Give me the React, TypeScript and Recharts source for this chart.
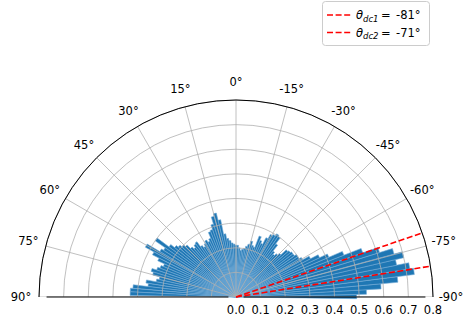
import React from 'react';
import { RadarChart, RadialBarChart, RadialBar, PolarAngleAxis, PolarRadiusAxis, PolarGrid } from 'recharts';

// angular bin centres (degrees, positive = left of vertical)
const binAngles = [
  -89, -87, -85, -83, -81, -79, -77, -75, -73, -71,
  -69, -67, -65, -63, -61, -59, -57, -55, -53, -51,
  -49, -47, -45, -43, -41, -39, -37, -35, -33, -31,
  -29, -27, -25, -23, -21, -19, -17, -15, -13, -11,
  -9, -7, -5, -3, -1, 1, 3, 5, 7, 9,
  11, 13, 15, 17, 19, 21, 23, 25, 27, 29,
  31, 33, 35, 37, 39, 41, 43, 45, 47, 49,
  51, 53, 55, 57, 59, 61, 63, 65, 67, 69,
  71, 73, 75, 77, 79, 81, 83, 85, 87, 89,
];
// radial magnitude per bin
const binRadii = [
  0.49, 0.53, 0.59, 0.66, 0.73, 0.715, 0.665, 0.70, 0.665, 0.61,
  0.545, 0.47, 0.41, 0.375, 0.34, 0.31, 0.30, 0.30, 0.29, 0.29,
  0.285, 0.28, 0.25, 0.24, 0.23, 0.24, 0.27, 0.30, 0.305, 0.295,
  0.29, 0.27, 0.24, 0.25, 0.265, 0.215, 0.22, 0.235, 0.22, 0.21,
  0.20, 0.195, 0.19, 0.20, 0.21, 0.21, 0.215, 0.22, 0.23, 0.24,
  0.26, 0.32, 0.35, 0.34, 0.31, 0.29, 0.285, 0.26, 0.25, 0.26,
  0.25, 0.24, 0.25, 0.275, 0.27, 0.26, 0.27, 0.29, 0.30, 0.31,
  0.32, 0.34, 0.40, 0.35, 0.36, 0.42, 0.38, 0.35, 0.32, 0.33,
  0.34, 0.36, 0.35, 0.32, 0.33, 0.37, 0.36, 0.42, 0.43, 0.43,
];
const angleTicks = [-90, -75, -60, -45, -30, -15, 0, 15, 30, 45, 60, 75, 90];
const radiusTicks = [0, 0.1, 0.2, 0.3, 0.4, 0.5, 0.6, 0.7, 0.8];
const refNames = ['dc1', 'dc2'];
const refAngles = [-81, -71];

const W = 470;
const H = 322;
const CX = 236;
const CY = 297;
const R = 197;
const M = { top: 0, right: 0, bottom: 0, left: 0 };
const FONT = '"DejaVu Sans", sans-serif';
const FS = 11.5;

const barData = binAngles.map((t, i) => ({ theta: t, r: binRadii[i] }));
const tickData = angleTicks.map((d) => ({ deg: d }));
const refData = refAngles.map((d) => ({ deg: d }));
const rMax = radiusTicks[radiusTicks.length - 1];
const aDomain: [number, number] = [angleTicks[0], angleTicks[angleTicks.length - 1]];
// the band axis puts each category's bar centred on the band start; shift by half a band
const halfBand = (aDomain[1] - aDomain[0]) / binAngles.length / 2;

const AngleTick = (props: any) => {
  const { x, y, payload } = props;
  return (
    <text x={x} y={y} textAnchor="middle" dominantBaseline="central" fontSize={FS} fontFamily={FONT} fill="#000">
      {`${payload.value}°`}
    </text>
  );
};

const RadiusTick = (props: any) => {
  const { x, y, payload } = props;
  return (
    <text x={x} y={y + 13} textAnchor="middle" dominantBaseline="central" fontSize={FS} fontFamily={FONT} fill="#000">
      {Number(payload.value).toFixed(1)}
    </text>
  );
};

const layer: React.CSSProperties = { position: 'absolute', left: 0, top: 0 };
const common = {
  width: W,
  height: H,
  cx: CX,
  cy: CY,
  innerRadius: 0,
  outerRadius: R,
  startAngle: 0,
  endAngle: 180,
  margin: M,
};

// chart whose radius axis is numeric (unit scale) -> outer radius chosen so rMax lands on R
const CentricChart = ({ children }: { children: React.ReactNode }) => (
  <RadarChart
    {...common}
    outerRadius={R / rMax}
    startAngle={halfBand}
    endAngle={180 + halfBand}
    data={barData}
  >
    <PolarAngleAxis type="category" dataKey="theta" tick={false} tickLine={false} axisLine={false} />
    {children}
  </RadarChart>
);

export default function App() {
  return (
    <div style={{ position: 'absolute', left: 0, top: 0, width: W, height: H, background: '#fff', overflow: 'hidden' }}>
      {/* bars */}
      <div style={layer}>
        <CentricChart>
          <PolarRadiusAxis type="number" domain={[0, 1]} ticks={radiusTicks as any} allowDataOverflow tick={false} tickLine={false} axisLine={false} />
          <RadialBar dataKey="r" fill="#1f77b4" stroke="#74abd6" strokeWidth={0.6} isAnimationActive={false} />
        </CentricChart>
      </div>
      {/* concentric grid, clipped at the baseline */}
      <div style={{ ...layer, width: W, height: CY, overflow: 'hidden' }}>
        <CentricChart>
          <PolarGrid gridType="circle" radialLines={false} stroke="#b0b0b0" strokeWidth={0.8} />
          <PolarRadiusAxis type="number" domain={[0, 1]} ticks={radiusTicks as any} allowDataOverflow tick={false} tickLine={false} axisLine={false} />
        </CentricChart>
      </div>
      {/* radial grid lines and outer arc, clipped at the baseline */}
      <div style={{ ...layer, width: W, height: CY, overflow: 'hidden' }}>
        <RadialBarChart {...common} data={tickData}>
          <PolarGrid gridType="circle" polarRadius={[]} stroke="#b0b0b0" strokeWidth={0.8} />
          <PolarAngleAxis
            type="number"
            dataKey="deg"
            domain={aDomain}
            tickCount={angleTicks.length}
            tick={false}
            tickLine={false}
            axisLineType="circle"
            axisLine={{ stroke: '#000', strokeWidth: 1 }}
          />
        </RadialBarChart>
      </div>
      {/* reference lines */}
      <div style={layer}>
        <RadialBarChart {...common} data={refData}>
          <PolarGrid gridType="circle" polarRadius={[]} stroke="#ff0000" strokeWidth={1.6} strokeDasharray="6 2.6" />
          <PolarAngleAxis type="number" dataKey="deg" domain={aDomain} ticks={refAngles as any} tick={false} tickLine={false} axisLine={false} />
        </RadialBarChart>
      </div>
      {/* angle labels and baseline spines */}
      <div style={layer}>
        <RadialBarChart {...common} data={tickData}>
          <PolarAngleAxis
            type="number"
            dataKey="deg"
            domain={aDomain}
            tickCount={angleTicks.length}
            tickSize={18}
            tickLine={false}
            axisLine={false}
            tick={<AngleTick />}
          />
          <PolarRadiusAxis angle={0} tick={false} tickLine={false} axisLine={{ stroke: '#000', strokeWidth: 1 }} />
          <PolarRadiusAxis radiusAxisId="left" angle={180} tick={false} tickLine={false} axisLine={{ stroke: '#000', strokeWidth: 1 }} />
        </RadialBarChart>
      </div>
      {/* radius labels */}
      <div style={layer}>
        <CentricChart>
          <PolarRadiusAxis
            type="number"
            angle={0}
            domain={[0, 1]}
            ticks={radiusTicks as any}
            allowDataOverflow
            tickLine={false}
            axisLine={false}
            tick={<RadiusTick />}
          />
        </CentricChart>
      </div>
      {/* legend */}
      <svg width={W} height={60} style={layer}>
        <rect x={322.5} y={1.5} width={107} height={44} rx={3} fill="#fff" fillOpacity={0.8} stroke="#cccccc" strokeWidth={1} />
        {refNames.map((n, i) => {
          const y = 15 + i * 17.5;
          return (
            <g key={n}>
              <line x1={327} x2={351} y1={y} y2={y} stroke="#ff0000" strokeWidth={1.6} strokeDasharray="6 2.6" />
              <text y={y + 4} fontSize={FS} fontFamily={FONT} fill="#000">
                <tspan x={356} fontStyle="italic">θ</tspan>
                <tspan x={363} dy={2.8} fontStyle="italic" fontSize={8.5}>{n}</tspan>
                <tspan x={381} dy={-2.8}>=</tspan>
                <tspan x={396}>{`${refAngles[i]}°`}</tspan>
              </text>
            </g>
          );
        })}
      </svg>
    </div>
  );
}
